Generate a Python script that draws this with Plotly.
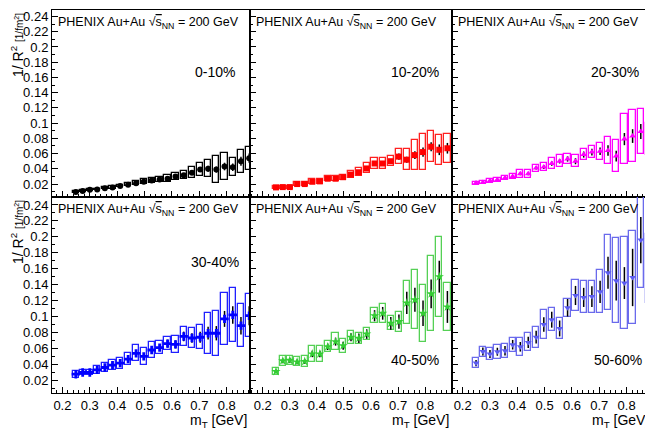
import plotly.graph_objects as go

# ---------------- data ----------------
mt = [0.249, 0.274, 0.300, 0.327, 0.355, 0.383, 0.411, 0.440, 0.469, 0.497, 0.526, 0.555,
      0.584, 0.613, 0.643, 0.673, 0.703, 0.732, 0.762, 0.792, 0.822, 0.852, 0.882]

labels = ["0-10%", "10-20%", "20-30%", "30-40%", "40-50%", "50-60%"]

val_0_10 = [0.0095, 0.011, 0.0125, 0.013, 0.0145, 0.0155, 0.0175, 0.019, 0.021, 0.023, 0.0245, 0.026,
            0.027, 0.030, 0.0315, 0.035, 0.039, 0.040, 0.039, 0.043, 0.042, 0.050, 0.054]
stat_0_10 = [0.0005, 0.0005, 0.0005, 0.0005, 0.0006, 0.0006, 0.0007, 0.0008, 0.0009, 0.001, 0.001, 0.0012,
             0.0015, 0.002, 0.002, 0.0025, 0.003, 0.004, 0.004, 0.005, 0.005, 0.006, 0.006]
sys_0_10 = [0.001, 0.001, 0.001, 0.001, 0.0012, 0.0015, 0.0017, 0.002, 0.0025, 0.003, 0.003, 0.0035,
            0.0045, 0.0045, 0.005, 0.007, 0.009, 0.011, 0.0175, 0.018, 0.012, 0.015, 0.015]

val_10_20 = [0.0156, 0.016, 0.016, 0.020, 0.020, 0.023, 0.0235, 0.027, 0.027, 0.029, 0.0325, 0.0355,
             0.0405, 0.047, 0.047, 0.050, 0.056, 0.052, 0.058, 0.062, 0.069, 0.065, 0.067]
stat_10_20 = [0.001, 0.001, 0.001, 0.001, 0.001, 0.001, 0.001, 0.0012, 0.0012, 0.0015, 0.002, 0.002,
              0.0025, 0.003, 0.003, 0.003, 0.004, 0.004, 0.005, 0.006, 0.006, 0.007, 0.007]
sys_10_20 = [0.002, 0.002, 0.002, 0.0025, 0.0025, 0.003, 0.003, 0.0035, 0.0035, 0.0035, 0.004, 0.0055,
             0.0066, 0.0066, 0.0073, 0.0066, 0.0095, 0.0136, 0.020, 0.0235, 0.020, 0.020, 0.019]

val_20_30 = [0.0213, 0.022, 0.0244, 0.0257, 0.028, 0.030, 0.0336, 0.0336, 0.041, 0.0424, 0.047, 0.050,
             0.053, 0.050, 0.0587, 0.062, 0.063, 0.064, 0.0567, 0.079, 0.083, 0.089, 0.079]
stat_20_30 = [0.001, 0.001, 0.0012, 0.0012, 0.0015, 0.0015, 0.002, 0.002, 0.002, 0.0025, 0.003, 0.003,
              0.0035, 0.004, 0.004, 0.0045, 0.005, 0.007, 0.007, 0.008, 0.009, 0.010, 0.010]
sys_20_30 = [0.002, 0.002, 0.0025, 0.0025, 0.003, 0.003, 0.0055, 0.0055, 0.0046, 0.0055, 0.007, 0.008,
             0.0066, 0.008, 0.0073, 0.0084, 0.011, 0.0176, 0.0215, 0.033, 0.034, 0.030, 0.0215]

val_30_40 = [0.0276, 0.0297, 0.0297, 0.033, 0.036, 0.039, 0.0415, 0.0465, 0.0537, 0.050, 0.058, 0.061,
             0.066, 0.065, 0.075, 0.073, 0.074, 0.079, 0.079, 0.097, 0.102, 0.0885, 0.101]
stat_30_40 = [0.002, 0.002, 0.002, 0.0025, 0.0025, 0.003, 0.003, 0.003, 0.003, 0.003, 0.004, 0.004,
              0.005, 0.005, 0.006, 0.006, 0.007, 0.008, 0.009, 0.010, 0.011, 0.011, 0.012]
sys_30_40 = [0.0042, 0.0034, 0.0036, 0.005, 0.006, 0.0063, 0.007, 0.0078, 0.010, 0.0105, 0.0105, 0.0084,
             0.0084, 0.011, 0.012, 0.0126, 0.015, 0.026, 0.028, 0.033, 0.034, 0.027, 0.027]

val_40_50 = [0.031, 0.0444, 0.045, 0.043, 0.0436, 0.053, 0.053, 0.062, 0.0684, 0.0633, 0.074, 0.0726,
             0.078, 0.101, 0.104, 0.0915, 0.0936, 0.117, 0.121, 0.104, 0.1285, 0.150, 0.112]
stat_40_50 = [0.002, 0.003, 0.003, 0.003, 0.003, 0.004, 0.004, 0.004, 0.005, 0.005, 0.005, 0.006,
              0.006, 0.007, 0.008, 0.008, 0.009, 0.014, 0.015, 0.016, 0.018, 0.020, 0.020]
sys_40_50 = [0.0042, 0.006, 0.0057, 0.0057, 0.0067, 0.0095, 0.010, 0.0067, 0.0105, 0.0088, 0.0084, 0.0067,
             0.0074, 0.0097, 0.0116, 0.009, 0.0126, 0.027, 0.037, 0.036, 0.047, 0.050, 0.030]

val_50_60 = [0.0415, 0.056, 0.053, 0.0558, 0.057, 0.0646, 0.062, 0.0675, 0.074, 0.090, 0.096, 0.085,
             0.111, 0.1264, 0.124, 0.125, 0.131, 0.155, 0.145, 0.142, 0.149, 0.196, 0.160]
stat_50_60 = [0.004, 0.005, 0.005, 0.005, 0.006, 0.006, 0.006, 0.007, 0.008, 0.009, 0.010, 0.010,
              0.011, 0.012, 0.012, 0.013, 0.014, 0.020, 0.025, 0.020, 0.036, 0.029, 0.034]
sys_50_60 = [0.006, 0.0063, 0.0074, 0.0088, 0.0088, 0.009, 0.011, 0.0114, 0.013, 0.0177, 0.0147, 0.0137,
             0.011, 0.020, 0.020, 0.020, 0.027, 0.047, 0.053, 0.058, 0.058, 0.060, 0.043]

x_tick_vals = [0.2, 0.3, 0.4, 0.5, 0.6, 0.7, 0.8]
x_tick_text = ["0.2", "0.3", "0.4", "0.5", "0.6", "0.7", "0.8"]
y_tick_vals = [0.02, 0.04, 0.06, 0.08, 0.10, 0.12, 0.14, 0.16, 0.18, 0.20, 0.22, 0.24]
y_tick_text = ["0.02", "0.04", "0.06", "0.08", "0.1", "0.12", "0.14", "0.16", "0.18", "0.2", "0.22", "0.24"]

series = [
    (val_0_10, stat_0_10, sys_0_10),
    (val_10_20, stat_10_20, sys_10_20),
    (val_20_30, stat_20_30, sys_20_30),
    (val_30_40, stat_30_40, sys_30_40),
    (val_40_50, stat_40_50, sys_40_50),
    (val_50_60, stat_50_60, sys_50_60),
]

# ---------------- styling ----------------
# the page body has an 8px margin, so the figure is drawn 8px in from the window corner
OFF = 8
W, H = 653 - OFF, 430 - OFF


def px(x):
    return (x - OFF) / W


def py(y):
    return 1 - (y - OFF) / H


colors = ["#000000", "#ff0000", "#ff00ff", "#0000ff", "#33cc33", "#5c5cf0"]
box_colors = ["#000000", "#ff2020", "#ff00ff", "#2020ff", "#55d055", "#6a6aec"]
symbols = ["circle", "square", "triangle-up", "cross", "star", "triangle-down"]
msizes = [6, 6, 6, 7, 7, 6]

col_px = [(52, 250), (250, 452), (452, 652)]
row_px = [(10, 197), (197, 393)]
x_ranges = [[0.162, 0.885], [0.153, 0.899], [0.161, 0.893]]
y_ranges = [[0.003, 0.2485], [0.004, 0.25]]
box_w = 0.023

fig = go.Figure()
font_family = "Liberation Sans, Arial, sans-serif"

for i, (vals, stat, sysv) in enumerate(series):
    r, c = divmod(i, 3)
    n = i + 1
    xa = "x" if n == 1 else f"x{n}"
    ya = "y" if n == 1 else f"y{n}"
    base = [v - s for v, s in zip(vals, sysv)]
    height = [2 * s for s in sysv]
    fig.add_trace(go.Bar(
        x=mt, y=height, base=base, width=box_w, xaxis=xa, yaxis=ya,
        marker=dict(color="rgba(0,0,0,0)", line=dict(color=box_colors[i], width=1.3)),
        showlegend=False, hoverinfo="skip"))
    fig.add_trace(go.Scatter(
        x=mt, y=vals, mode="markers", xaxis=xa, yaxis=ya,
        marker=dict(symbol=symbols[i], color=colors[i], size=msizes[i], line=dict(width=0)),
        error_y=dict(type="data", array=stat, color="black", thickness=1.5, width=0),
        showlegend=False))

    x0, x1 = col_px[c]
    y0, y1 = row_px[r]
    xkey = "xaxis" if n == 1 else f"xaxis{n}"
    ykey = "yaxis" if n == 1 else f"yaxis{n}"
    fig.layout[xkey] = dict(
        domain=[px(x0), px(x1)], range=x_ranges[c], anchor=ya,
        tickvals=x_tick_vals, ticktext=x_tick_text, showticklabels=(r == 1),
        ticks="inside", ticklen=6, tickcolor="black", tickwidth=1,
        minor=dict(dtick=0.02, ticks="inside", ticklen=3, tickcolor="black", tickwidth=1),
        showline=True, linecolor="black", linewidth=1, mirror=True,
        showgrid=False, zeroline=False, ticklabeloverflow="allow",
        tickfont=dict(family=font_family, size=13, color="black"))
    fig.layout[ykey] = dict(
        domain=[py(y1), py(y0)], range=y_ranges[r], anchor=xa,
        tickvals=y_tick_vals, ticktext=y_tick_text, showticklabels=(c == 0),
        ticks="inside", ticklen=6, tickcolor="black", tickwidth=1,
        minor=dict(dtick=0.01, ticks="inside", ticklen=3, tickcolor="black", tickwidth=1),
        showline=True, linecolor="black", linewidth=1, mirror=True,
        showgrid=False, zeroline=False, ticklabeloverflow="allow",
        tickfont=dict(family=font_family, size=13, color="black"))

    # header text
    fig.add_annotation(
        xref="paper", yref="paper", x=px(x0 + 4), y=py(y0 + 3),
        xanchor="left", yanchor="top", showarrow=False,
        text="PHENIX Au+Au √<span style='text-decoration:overline'>s</span><sub>NN</sub> = 200 GeV",
        font=dict(family=font_family, size=12.5, color="black"))

# centrality labels (pixel positions of label centres)
lab_pos = [(215, 72), (415, 72), (615, 72), (215, 262), (415, 360), (618, 360)]
for lab, (lx, ly) in zip(labels, lab_pos):
    fig.add_annotation(xref="paper", yref="paper", x=px(lx), y=py(ly),
                       xanchor="center", yanchor="middle", showarrow=False, text=lab,
                       font=dict(family=font_family, size=14, color="black"))

# y-axis titles
for (y0, y1) in row_px:
    fig.add_annotation(xref="paper", yref="paper", x=px(17), y=py(y0 + 1),
                       xanchor="center", yanchor="top", showarrow=False, textangle=-90,
                       text="1/ R<sup>2</sup> <span style='font-size:10px'>[1/fm<sup>2</sup>]</span>",
                       font=dict(family=font_family, size=14, color="black"))

# x-axis titles
for (x0, x1) in col_px:
    fig.add_annotation(xref="paper", yref="paper", x=px(x1 - 1), y=py(421),
                       xanchor="right", yanchor="middle", showarrow=False,
                       text="m<sub>T</sub> [GeV]",
                       font=dict(family=font_family, size=14, color="black"))

fig.update_layout(
    width=W, height=H, margin=dict(l=0, r=0, t=0, b=0),
    paper_bgcolor="white", plot_bgcolor="white", barmode="overlay", bargap=0,
    showlegend=False)

fig.write_html("out.html")
